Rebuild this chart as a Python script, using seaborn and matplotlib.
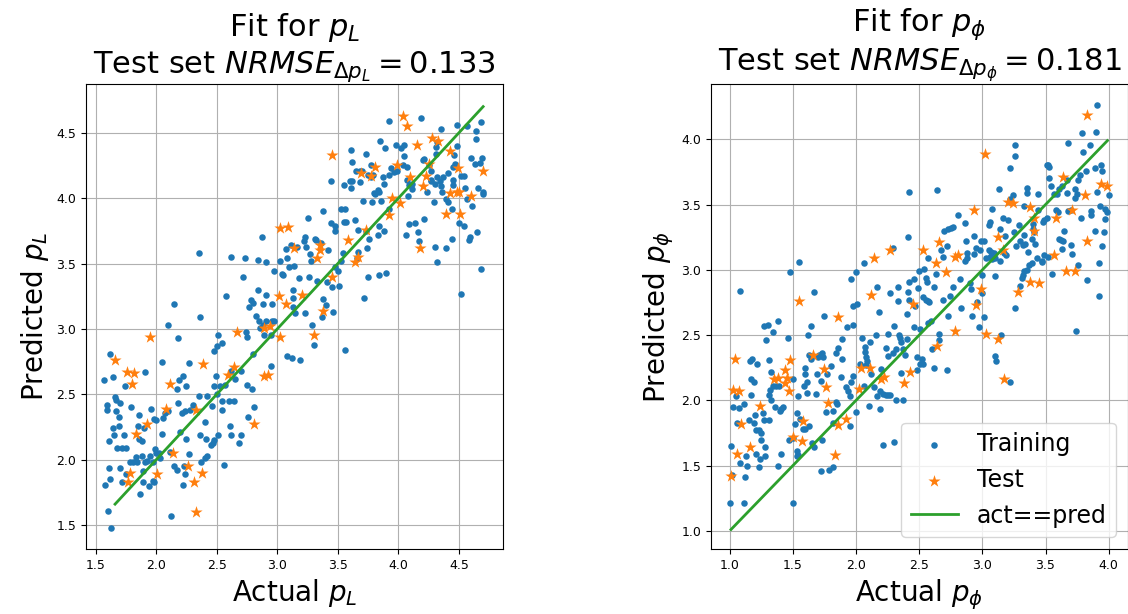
import matplotlib
matplotlib.use("Agg")
import matplotlib.pyplot as plt
import pandas as pd
import seaborn as sns

# (actual, predicted) pairs

# --- p_L panel ---
L_TRAIN = [
    (2.35, 3.58), (2.87, 3.70), (2.62, 3.55), (2.73, 3.54), (2.84, 3.53), (2.91, 3.51), (3.02, 3.52),
    (3.08, 3.54), (3.07, 3.61), (3.11, 3.64), (3.10, 3.47), (3.14, 3.48), (2.97, 3.44), (3.04, 3.42),
    (3.05, 3.41), (2.72, 3.40), (2.84, 3.30), (3.13, 3.30), (2.91, 3.26), (2.58, 3.25), (2.78, 3.22),
    (2.80, 3.20), (2.77, 3.17), (2.88, 3.19), (2.96, 3.19), (3.13, 3.24), (3.13, 3.17), (2.15, 3.19),
    (3.92, 4.59), (4.19, 4.61), (4.35, 4.53), (4.48, 4.56), (4.57, 4.55), (4.68, 4.58), (4.64, 4.51),
    (4.64, 4.45), (3.85, 4.44), (3.89, 4.38), (3.98, 4.41), (4.02, 4.38), (4.05, 4.41), (3.61, 4.37),
    (3.73, 4.34), (4.05, 4.32), (3.62, 4.28), (4.31, 4.39), (4.32, 4.43), (4.48, 4.40), (4.31, 4.34),
    (4.46, 4.33), (4.47, 4.26), (4.20, 4.29), (4.60, 4.31), (4.69, 4.31), (4.67, 4.27), (4.63, 4.26),
    (3.44, 4.13), (3.55, 4.10), (3.60, 4.13), (3.62, 4.13), (3.61, 4.08), (3.65, 4.21), (3.68, 4.21),
    (3.70, 4.21), (3.68, 4.12), (3.75, 4.18), (3.77, 4.16), (3.87, 4.16), (3.88, 4.11), (3.92, 4.18),
    (3.94, 4.23), (3.96, 4.20), (3.99, 4.21), (3.77, 4.25), (3.79, 4.18), (4.04, 4.25), (4.07, 4.24),
    (4.07, 4.14), (4.11, 4.11), (4.09, 4.10), (4.11, 4.07), (4.21, 4.30), (4.25, 4.25), (4.27, 4.21),
    (4.32, 4.16), (4.27, 4.14), (4.27, 4.13), (4.34, 4.13), (4.35, 4.09), (4.37, 4.16), (4.41, 4.19),
    (4.45, 4.14), (4.45, 4.10), (4.45, 4.24), (4.52, 4.17), (4.54, 4.17), (4.55, 4.08), (4.30, 4.11),
    (4.24, 4.05), (4.36, 4.05), (4.39, 3.99), (4.41, 3.97), (4.44, 3.92), (4.29, 3.97), (4.57, 3.99),
    (4.61, 3.94), (4.66, 4.08), (4.70, 4.05), (4.70, 4.03), (3.83, 4.06), (3.81, 4.03), (3.80, 4.04),
    (3.84, 4.05), (3.71, 3.98), (3.78, 3.97), (3.86, 3.98), (4.08, 4.02), (3.38, 3.90), (3.53, 3.92),
    (3.56, 3.92), (3.25, 3.85), (3.44, 3.81), (3.48, 3.79), (3.55, 3.82), (3.57, 3.82), (3.64, 3.83),
    (3.48, 3.75), (3.67, 3.76), (3.73, 3.75), (3.76, 3.69), (3.83, 3.72), (3.84, 3.79), (3.88, 3.75),
    (3.92, 3.92), (4.06, 3.72), (4.09, 3.80), (4.14, 3.81), (4.16, 3.74), (4.17, 3.67), (4.21, 3.84),
    (4.50, 3.81), (4.54, 3.79), (4.59, 3.70), (4.58, 3.68), (4.65, 3.74), (4.44, 3.69), (4.30, 3.63),
    (4.39, 3.62), (4.32, 3.51), (4.68, 3.46), (4.52, 3.27), (3.23, 3.70), (3.22, 3.67), (3.24, 3.63),
    (3.31, 3.69), (3.32, 3.68), (3.16, 3.63), (3.27, 3.57), (3.28, 3.52), (3.36, 3.66), (3.42, 3.60),
    (3.54, 3.58), (3.67, 3.59), (3.74, 3.62), (3.66, 3.54), (3.53, 3.52), (3.50, 3.44), (3.48, 3.47),
    (3.33, 3.37), (3.26, 3.40), (3.41, 3.36), (3.18, 3.39), (3.75, 3.40), (3.84, 3.41), (3.90, 3.43),
    (3.51, 3.33), (3.45, 3.32), (3.72, 3.24), (3.38, 3.23), (3.40, 3.18), (3.46, 3.13), (3.23, 3.12),
    (3.15, 3.12), (3.37, 3.09), (3.29, 3.03), (3.30, 2.88), (3.19, 2.76), (3.56, 2.84),
    (2.36, 3.09), (2.82, 3.10), (2.10, 3.03), (2.18, 2.93), (2.51, 2.95), (2.50, 2.87), (2.54, 2.89),
    (2.48, 2.83), (1.62, 2.81), (2.05, 2.75), (2.27, 2.74), (1.57, 2.61), (1.64, 2.63), (1.74, 2.56),
    (1.91, 2.67), (2.19, 2.61), (2.22, 2.64), (2.17, 2.54), (2.25, 2.56), (2.49, 2.64), (2.48, 2.56),
    (2.53, 2.56), (2.57, 2.57), (2.50, 2.50), (1.66, 2.48), (1.67, 2.46), (1.59, 2.42), (1.59, 2.38),
    (1.70, 2.43), (1.67, 2.37), (1.69, 2.33), (1.79, 2.40), (1.86, 2.34), (1.96, 2.39), (1.98, 2.31),
    (2.00, 2.30), (2.06, 2.32), (2.07, 2.36), (2.10, 2.37), (2.18, 2.43), (2.21, 2.36), (2.24, 2.37),
    (2.28, 2.38), (2.30, 2.42), (2.35, 2.49), (2.42, 2.49), (2.46, 2.41), (2.54, 2.45), (2.60, 2.45),
    (2.64, 2.45), (2.54, 2.38), (1.64, 2.24), (1.65, 2.19), (1.69, 2.26), (1.73, 2.19), (1.61, 2.14),
    (1.68, 2.09), (1.72, 2.09), (1.75, 2.09), (1.85, 2.26), (1.86, 2.16), (1.88, 2.14), (1.90, 2.24),
    (2.05, 2.20), (2.20, 2.21), (2.25, 2.16), (2.36, 2.19), (2.41, 2.16), (2.40, 2.29), (2.51, 2.19),
    (2.48, 2.15), (2.47, 2.13), (2.45, 2.11), (2.61, 2.26), (2.62, 2.19), (2.70, 2.19), (2.68, 2.13),
    (2.76, 2.33), (2.81, 2.40), (1.99, 2.08), (2.00, 2.05), (2.02, 2.05), (1.95, 2.03), (1.92, 1.99),
    (1.88, 2.03), (1.83, 2.02), (1.78, 1.98), (1.81, 1.98), (1.84, 1.98), (1.91, 1.98), (1.89, 1.91),
    (1.97, 1.98), (2.03, 2.01), (2.11, 2.06), (2.15, 1.95), (2.17, 1.92), (2.23, 1.95), (2.27, 2.04),
    (2.37, 1.98), (2.40, 2.01), (2.42, 2.03), (2.56, 1.96), (1.61, 1.94), (1.70, 1.94), (1.62, 1.85),
    (1.58, 1.81), (1.72, 1.83), (1.75, 1.89), (1.89, 1.83), (1.94, 1.80), (1.97, 1.84), (1.98, 1.83),
    (1.87, 1.74), (2.22, 1.81), (2.24, 1.89), (2.12, 1.57), (1.60, 1.61), (1.63, 1.48),
    (2.74, 2.98), (2.75, 2.94), (2.85, 3.06), (2.86, 3.01), (2.88, 3.03), (2.89, 2.95), (2.91, 3.06),
    (2.96, 3.06), (2.95, 2.95), (2.97, 3.06), (2.80, 2.81), (3.08, 2.79), (3.12, 2.78), (2.95, 2.72),
    (2.75, 2.57), (2.79, 2.54), (2.70, 2.68), (2.65, 2.62), (2.62, 2.68),
]
L_TEST = [
    (3.02, 3.77), (3.09, 3.78), (3.14, 3.62), (3.01, 3.25), (3.07, 3.19), (3.45, 4.33), (4.04, 4.63),
    (4.07, 4.55), (4.28, 4.46), (4.33, 4.44), (4.15, 4.41), (4.43, 4.36), (4.49, 4.23), (4.70, 4.21),
    (4.23, 4.17), (4.25, 4.26), (3.81, 4.24), (3.77, 4.17), (3.69, 4.19), (3.99, 4.25), (4.10, 4.16),
    (4.20, 4.09), (4.43, 4.04), (4.48, 4.05), (4.50, 4.05), (4.60, 4.02), (3.95, 4.00), (4.01, 3.96),
    (3.92, 3.87), (4.39, 3.88), (4.51, 3.88), (4.18, 3.62), (3.73, 3.76), (3.58, 3.68), (3.35, 3.64),
    (3.35, 3.60), (3.33, 3.54), (3.64, 3.51), (3.67, 3.55), (3.45, 3.40), (3.20, 3.26), (3.38, 3.14),
    (3.30, 2.95), (1.95, 2.94), (1.66, 2.76), (1.76, 2.67), (1.82, 2.66), (1.80, 2.58), (2.11, 2.58),
    (2.39, 2.73), (2.59, 2.65), (2.64, 2.71), (2.67, 2.98), (2.89, 3.01), (2.94, 3.02), (3.02, 2.94),
    (2.89, 2.64), (2.92, 2.65), (2.08, 2.39), (2.33, 2.38), (1.92, 2.27), (1.83, 2.20), (2.81, 2.27),
    (2.14, 2.05), (1.78, 1.90), (1.77, 1.83), (2.01, 1.89), (2.26, 1.95), (2.38, 1.90), (2.31, 1.83),
    (2.33, 1.60),
]
L_NRMSE = 0.133

# --- p_phi panel ---
PHI_TRAIN = [
    (1.55, 3.06), (1.48, 2.98), (1.08, 2.84), (1.67, 2.83), (1.75, 2.65),
    (2.42, 3.60), (2.64, 3.61), (2.81, 3.42), (2.86, 3.36), (2.70, 3.30), (2.73, 3.31), (2.75, 3.32),
    (2.77, 3.33), (2.41, 3.25), (2.93, 3.26), (2.87, 3.22), (2.29, 3.17), (2.67, 3.15), (2.72, 3.18),
    (2.57, 3.09), (2.69, 3.10), (2.88, 3.13), (2.95, 3.17), (2.98, 3.15), (2.93, 3.12), (2.88, 3.09),
    (2.86, 3.07), (2.06, 3.05), (2.00, 2.98), (1.96, 2.93), (2.50, 2.99), (2.54, 3.01), (2.63, 2.97),
    (2.82, 2.93), (2.90, 2.90), (2.91, 2.85), (2.46, 2.93), (2.42, 2.91), (2.55, 2.94), (2.56, 2.91),
    (2.17, 2.87), (2.33, 2.87), (2.27, 2.82), (2.41, 2.83), (2.49, 2.86), (2.62, 2.87), (2.77, 2.87),
    (2.42, 2.77), (2.33, 2.76), (2.53, 2.79), (2.55, 2.77), (2.57, 2.76), (2.58, 2.75), (2.69, 2.77),
    (2.74, 2.80), (1.98, 2.72), (2.01, 2.74), (2.18, 2.68), (2.40, 2.66), (2.47, 2.72), (2.73, 2.65),
    (2.83, 2.71), (2.92, 2.65), (2.96, 2.75),
    (3.91, 4.26), (3.90, 4.06), (3.79, 4.05), (3.85, 3.96), (3.68, 3.97), (3.26, 3.96), (3.26, 3.87),
    (3.22, 3.78), (3.80, 3.90), (3.51, 3.80), (3.52, 3.80), (3.53, 3.79), (3.53, 3.70), (3.54, 3.64),
    (3.94, 3.80), (3.95, 3.76), (3.89, 3.78), (3.82, 3.76), (3.77, 3.73), (3.76, 3.69), (3.67, 3.69),
    (3.61, 3.62), (3.63, 3.64), (3.59, 3.58), (3.57, 3.58), (3.67, 3.59), (3.73, 3.62), (3.75, 3.58),
    (3.73, 3.55), (3.68, 3.45), (3.60, 3.44), (3.58, 3.46), (3.35, 3.63), (3.35, 3.59), (3.44, 3.58),
    (3.24, 3.57), (3.13, 3.62), (3.22, 3.54), (3.33, 3.49), (3.08, 3.47), (3.44, 3.46), (3.51, 3.40),
    (3.48, 3.37), (3.49, 3.38), (3.78, 3.40), (3.70, 3.46), (3.93, 3.49), (3.97, 3.47), (3.99, 3.44),
    (3.86, 3.45), (3.86, 3.42), (3.91, 3.60), (4.00, 3.57), (3.97, 3.39), (3.06, 3.37), (3.05, 3.34),
    (3.16, 3.40), (3.20, 3.38), (3.14, 3.31), (3.18, 3.26), (3.25, 3.29), (3.29, 3.34), (3.33, 3.27),
    (3.30, 3.22), (3.40, 3.35), (3.40, 3.31), (3.41, 3.29), (3.39, 3.24), (3.42, 3.20), (3.32, 3.19),
    (3.34, 3.20), (3.61, 3.24), (3.62, 3.23), (3.64, 3.22), (3.65, 3.30), (3.70, 3.19), (3.89, 3.30),
    (3.96, 3.29), (3.95, 3.18), (3.63, 3.16), (3.71, 3.12), (3.27, 3.18), (3.01, 3.22), (2.99, 3.22),
    (3.05, 3.15), (3.07, 3.14), (3.06, 3.10), (3.03, 3.09), (3.08, 3.08), (3.09, 3.13), (3.10, 3.09),
    (3.17, 3.13), (3.19, 3.11), (3.14, 3.07), (3.36, 3.14), (3.39, 3.05), (3.37, 3.04), (3.43, 3.09),
    (3.47, 3.07), (3.47, 3.06), (3.49, 3.11), (3.52, 3.10), (3.55, 2.97), (3.76, 3.04), (3.92, 3.05),
    (3.35, 3.00), (3.33, 2.99), (3.32, 2.96), (3.31, 2.94), (3.30, 2.88), (3.10, 2.95), (3.00, 2.96),
    (3.00, 2.82), (3.83, 2.92), (3.92, 2.80), (3.26, 2.71),
    (1.38, 2.61), (1.27, 2.57), (1.30, 2.58), (1.34, 2.52), (1.29, 2.46), (1.46, 2.48), (1.16, 2.30),
    (1.18, 2.32), (1.22, 2.28), (1.31, 2.31), (1.33, 2.22), (1.17, 2.16), (1.19, 2.14), (1.50, 2.16),
    (1.32, 2.08), (1.34, 2.11), (1.37, 2.11), (1.39, 2.11), (1.31, 2.04), (1.17, 2.04), (1.33, 2.00),
    (1.05, 2.03), (1.03, 1.95), (1.07, 1.94), (1.11, 1.97), (1.54, 2.03), (1.36, 1.95), (1.41, 1.93),
    (1.42, 1.95), (1.40, 1.92), (1.20, 1.89), (1.26, 1.90), (1.27, 1.85), (1.31, 1.85), (1.15, 1.85),
    (1.19, 1.83), (1.06, 1.83), (1.53, 1.90), (1.52, 1.82), (1.56, 1.86), (1.58, 1.78), (1.60, 1.78),
    (1.63, 1.80), (1.21, 1.77), (1.23, 1.77), (1.25, 1.75), (1.25, 1.70), (1.47, 1.70), (1.50, 1.71),
    (1.01, 1.65), (1.28, 1.64), (1.41, 1.59), (1.21, 1.59), (1.24, 1.55), (1.28, 1.57), (1.13, 1.57),
    (1.08, 1.52), (1.14, 1.50), (1.23, 1.49), (1.38, 1.50), (1.53, 1.61), (1.54, 1.58), (1.53, 1.57),
    (1.65, 1.67), (1.67, 1.64), (1.73, 1.70), (1.72, 1.46), (1.79, 1.47), (1.82, 1.49), (1.02, 1.43),
    (1.12, 1.41), (1.00, 1.21), (1.11, 1.21), (1.50, 1.21), (1.62, 2.50), (1.64, 2.57), (1.60, 2.25),
    (1.60, 2.20), (1.69, 2.20), (1.72, 2.15), (1.77, 2.20), (1.80, 2.26), (1.84, 2.36), (1.86, 2.40),
    (1.89, 2.32), (1.88, 2.18), (1.63, 2.35), (1.65, 2.34), (1.71, 2.35), (1.73, 2.36), (1.74, 2.33),
    (1.70, 2.33), (1.64, 2.32), (1.59, 2.11), (1.61, 2.14), (1.61, 2.06), (1.68, 2.05), (1.76, 1.91),
    (1.82, 1.92), (1.84, 1.99), (1.85, 1.97), (1.82, 1.83), (1.89, 2.47),
    (1.93, 2.56), (1.98, 2.58), (2.05, 2.48), (2.11, 2.45), (2.16, 2.50), (2.25, 2.51), (2.30, 2.57),
    (2.34, 2.50), (2.35, 2.48), (2.40, 2.47), (2.46, 2.56), (2.51, 2.55), (2.57, 2.59), (2.59, 2.61),
    (2.66, 2.51), (2.66, 2.46), (2.60, 2.39), (2.97, 2.56), (2.07, 2.41), (2.07, 2.37), (2.08, 2.33),
    (2.09, 2.30), (2.08, 2.27), (2.03, 2.28), (2.04, 2.26), (2.24, 2.40), (2.25, 2.34), (2.29, 2.36),
    (2.32, 2.39), (2.37, 2.39), (2.36, 2.45), (2.39, 2.35), (2.48, 2.33), (2.52, 2.32), (2.53, 2.28),
    (2.51, 2.28), (2.62, 2.25), (2.72, 2.23), (2.48, 2.23), (2.36, 2.21), (2.20, 2.24), (2.12, 2.20),
    (1.98, 2.19), (1.96, 2.14), (1.92, 2.10), (1.94, 2.07), (1.95, 2.03), (2.06, 2.11), (2.14, 2.10),
    (2.19, 2.07), (2.21, 2.05), (2.24, 2.04), (2.25, 2.04), (2.27, 2.04), (2.17, 2.03), (2.32, 2.00),
    (2.37, 2.00), (2.10, 1.96), (2.19, 1.93), (2.00, 1.91), (1.95, 1.80), (2.21, 1.66), (2.30, 1.68),
    (3.01, 2.64), (3.15, 2.50), (3.74, 2.53), (3.10, 2.34), (3.11, 2.30), (3.22, 2.14),
]
PHI_TEST = [
    (1.55, 2.76), (1.86, 2.64), (2.93, 3.46), (2.66, 3.21), (2.53, 3.15), (2.27, 3.15), (2.14, 3.09),
    (2.63, 3.05), (2.71, 2.98), (2.78, 3.10), (2.81, 3.11), (2.12, 2.81), (2.45, 2.74), (2.95, 2.73),
    (3.83, 4.19), (3.02, 3.89), (3.64, 3.71), (3.94, 3.66), (3.99, 3.64), (3.81, 3.57), (3.20, 3.52),
    (3.24, 3.51), (3.38, 3.48), (3.41, 3.40), (3.41, 3.30), (3.58, 3.40), (3.71, 3.46), (3.12, 3.25),
    (3.16, 3.15), (3.57, 3.11), (3.83, 3.22), (3.66, 2.99), (3.73, 2.99), (3.38, 2.91), (3.45, 2.90),
    (3.28, 2.83), (2.99, 2.85), (1.04, 2.32), (1.48, 2.31), (1.66, 2.35), (1.75, 2.24), (1.44, 2.23),
    (1.35, 2.16), (1.38, 2.17), (1.45, 2.17), (1.44, 2.13), (1.47, 2.07), (1.76, 2.10), (1.03, 2.08),
    (1.07, 2.07), (1.24, 1.96), (1.78, 1.98), (1.09, 1.82), (1.58, 1.84), (1.86, 1.81), (1.50, 1.72),
    (1.57, 1.69), (1.16, 1.64), (1.06, 1.59), (1.83, 1.58), (1.01, 1.42), (2.04, 2.25), (2.11, 2.25),
    (2.02, 2.09), (2.20, 2.16), (2.22, 2.18), (2.43, 2.22), (2.38, 2.13), (2.64, 2.42), (2.78, 2.53),
    (1.92, 1.86), (3.03, 2.51), (3.12, 2.47), (3.17, 2.16),
]
PHI_NRMSE = 0.181

BLUE = "#1f77b4"
ORANGE = "#ff7f0e"
GREEN = "#2ca02c"


def draw_panel(ax, train, test, sym, nrmse, xlim, ylim, show_legend):
    tr = pd.DataFrame(train, columns=["actual", "predicted"])
    te = pd.DataFrame(test, columns=["actual", "predicted"])

    sns.scatterplot(data=tr, x="actual", y="predicted", ax=ax, color=BLUE,
                    marker="o", s=22, linewidth=0, label="Training", zorder=3)
    sns.scatterplot(data=te, x="actual", y="predicted", ax=ax, color=ORANGE,
                    marker="*", s=85, linewidth=0, label="Test", zorder=3)
    # identity line over the range of the test actuals
    sns.lineplot(x=te["actual"], y=te["actual"], ax=ax, color=GREEN, lw=2,
                 estimator=None, label="act==pred", zorder=4)

    ax.set_xlim(*xlim)
    ax.set_ylim(*ylim)
    ax.set_axisbelow(True)
    ax.grid(True, color="#b0b0b0", lw=0.8)
    ax.set_title(f"Fit for ${sym}$\nTest set $NRMSE_{{\\Delta {sym}}} = {nrmse:.3f}$", fontsize=22)
    ax.set_xlabel(f"Actual ${sym}$", fontsize=20)
    ax.set_ylabel(f"Predicted ${sym}$", fontsize=20)
    ax.tick_params(labelsize=9)
    for s in ax.spines.values():
        s.set_color("black")

    if show_legend:
        ax.legend(loc="lower right", fontsize=17)
    else:
        ax.get_legend().remove()


fig = plt.figure(figsize=(11.28, 6.14), dpi=100)
bottom = 1 - 549 / 614
height = 465 / 614
ax1 = fig.add_axes([86 / 1128, bottom, 417 / 1128, height])
ax2 = fig.add_axes([711 / 1128, bottom, 417 / 1128, height])

draw_panel(ax1, L_TRAIN, L_TEST, "p_L", L_NRMSE, (1.42, 4.864), (1.317, 4.873), False)
draw_panel(ax2, PHI_TRAIN, PHI_TEST, "p_\\phi", PHI_NRMSE, (0.852, 4.153), (0.861, 4.424), True)

fig.savefig("out.png", dpi=100)
plt.close(fig)
